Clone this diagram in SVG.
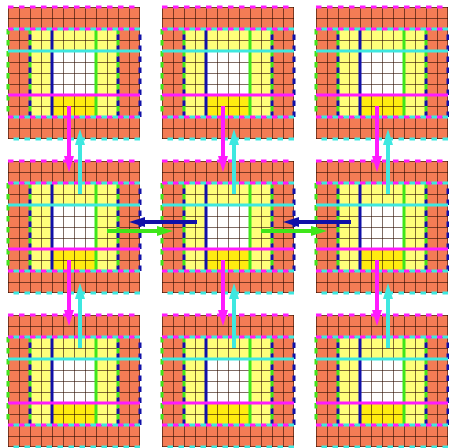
<svg xmlns="http://www.w3.org/2000/svg" xmlns:xlink="http://www.w3.org/1999/xlink" width="449" height="448" viewBox="0 0 449 448">
<style>
.bg{fill:#fff}
.orange{fill:#f47c55}
.pale{fill:#ffff7a}
.bright{fill:#ffec10}
.white{fill:#fff}
.grid{fill:none;stroke:#2a0c00;stroke-opacity:0.6;stroke-width:1}
.ln{fill:none;stroke-width:3}
.dash{stroke-dasharray:5.5 5.5}
.dash2{stroke-dasharray:5.5 5.5;stroke-dashoffset:5.5}
.mag{stroke:#ff1aff}
.cya{stroke:#3ee8e0}
.blu{stroke:#1010a8}
.grn{stroke:#3fe61a}
.arr{fill:none;stroke-width:4}
</style>
<defs>
<marker id="hm" viewBox="0 0 16 10" markerUnits="userSpaceOnUse" markerWidth="16" markerHeight="10" refX="6" refY="5" orient="auto"><path d="M0,0 L16,5 L0,10 z" fill="#ff1aff"/></marker>
<marker id="hc" viewBox="0 0 16 10" markerUnits="userSpaceOnUse" markerWidth="16" markerHeight="10" refX="6" refY="5" orient="auto"><path d="M0,0 L16,5 L0,10 z" fill="#3ee8e0"/></marker>
<marker id="hb" viewBox="0 0 16 10" markerUnits="userSpaceOnUse" markerWidth="16" markerHeight="10" refX="6" refY="5" orient="auto"><path d="M0,0 L16,5 L0,10 z" fill="#1010a8"/></marker>
<marker id="hg" viewBox="0 0 16 10" markerUnits="userSpaceOnUse" markerWidth="16" markerHeight="10" refX="6" refY="5" orient="auto"><path d="M0,0 L16,5 L0,10 z" fill="#3fe61a"/></marker>
<g id="tile">
<rect class="orange" x="0" y="0" width="132" height="132"/>
<rect class="pale" x="22" y="22" width="88" height="88"/>
<rect class="white" x="44" y="44" width="44" height="44"/>
<rect class="bright" x="44" y="88" width="44" height="22"/>
<path class="grid" d="M0.5,0V132M11.5,0V132M22.5,0V132M33.5,0V132M44.5,0V132M55.5,0V132M66.5,0V132M77.5,0V132M88.5,0V132M99.5,0V132M110.5,0V132M121.5,0V132M131.5,0V132M0,0.5H132M0,11.5H132M0,22.5H132M0,33.5H132M0,44.5H132M0,55.5H132M0,66.5H132M0,77.5H132M0,88.5H132M0,99.5H132M0,110.5H132M0,121.5H132M0,131.5H132"/>
<path class="ln blu" d="M44,22V110"/>
<path class="ln grn" d="M88,22V110"/>
<path class="ln grn dash" d="M0,22V110M22,22V110M110,22V110"/>
<path class="ln blu dash2" d="M22,22V110M110,22V110M132,22V110"/>
<path class="ln cya" d="M0,44H132"/>
<path class="ln mag" d="M0,88H132"/>
<path class="ln mag dash" d="M0,0H132M0,22H132M0,110H132"/>
<path class="ln cya dash2" d="M0,22H132M0,110H132M0,132H132"/>
</g>
</defs>
<rect class="bg" x="0" y="0" width="449" height="448"/>
<g id="tile-r0c0" transform="translate(8,7)"><use xlink:href="#tile"/></g>
<g id="tile-r0c1" transform="translate(162,7)"><use xlink:href="#tile"/></g>
<g id="tile-r0c2" transform="translate(316,7)"><use xlink:href="#tile"/></g>
<g id="tile-r1c0" transform="translate(8,161)"><use xlink:href="#tile"/></g>
<g id="tile-r1c1" transform="translate(162,161)"><use xlink:href="#tile"/></g>
<g id="tile-r1c2" transform="translate(316,161)"><use xlink:href="#tile"/></g>
<g id="tile-r2c0" transform="translate(8,315)"><use xlink:href="#tile"/></g>
<g id="tile-r2c1" transform="translate(162,315)"><use xlink:href="#tile"/></g>
<g id="tile-r2c2" transform="translate(316,315)"><use xlink:href="#tile"/></g>
<g id="connectors">
<path class="arr mag" marker-end="url(#hm)" d="M69,106V162"/>
<path class="arr mag" marker-end="url(#hm)" d="M223,106V162"/>
<path class="arr mag" marker-end="url(#hm)" d="M377,106V162"/>
<path class="arr mag" marker-end="url(#hm)" d="M69,260V316"/>
<path class="arr mag" marker-end="url(#hm)" d="M223,260V316"/>
<path class="arr mag" marker-end="url(#hm)" d="M377,260V316"/>
<path class="arr cya" marker-end="url(#hc)" d="M80,194V139"/>
<path class="arr cya" marker-end="url(#hc)" d="M234,194V139"/>
<path class="arr cya" marker-end="url(#hc)" d="M388,194V139"/>
<path class="arr cya" marker-end="url(#hc)" d="M80,348V293"/>
<path class="arr cya" marker-end="url(#hc)" d="M234,348V293"/>
<path class="arr cya" marker-end="url(#hc)" d="M388,348V293"/>
<path class="arr blu" marker-end="url(#hb)" d="M197,222H139"/>
<path class="arr blu" marker-end="url(#hb)" d="M351,222H293"/>
<path class="arr grn" marker-end="url(#hg)" d="M107,231H163"/>
<path class="arr grn" marker-end="url(#hg)" d="M261,231H317"/>
</g>
</svg>
